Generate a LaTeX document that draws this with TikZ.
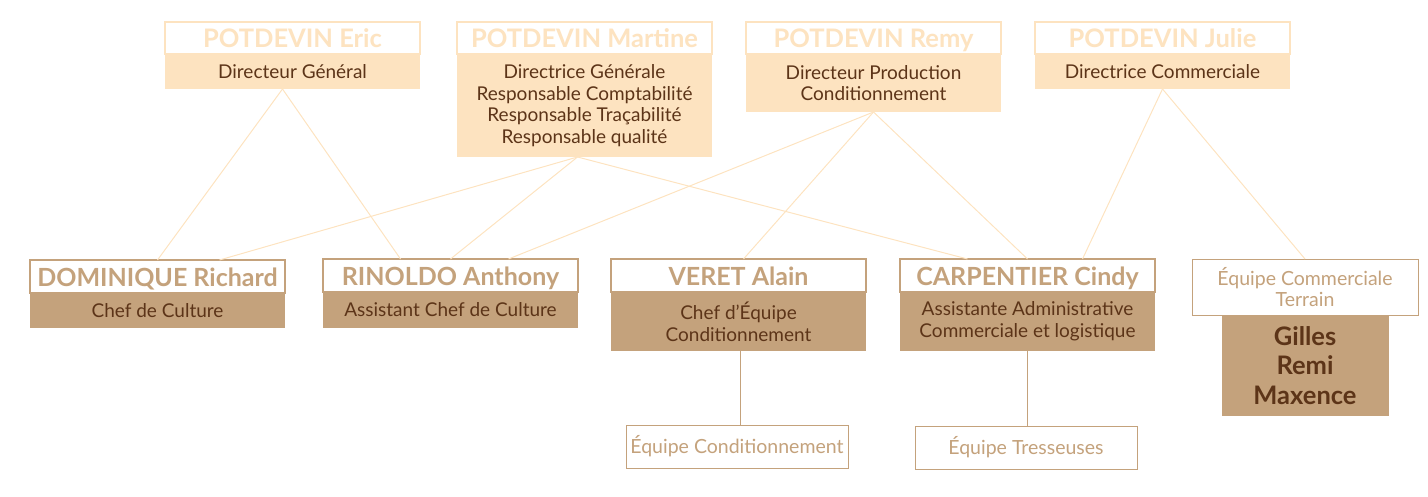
\documentclass[tikz,border=0pt]{standalone}
\usepackage{fontspec}
\setmainfont{Lato}
\usetikzlibrary{positioning}
\definecolor{peche}{RGB}{253,227,192}
\definecolor{tabac}{RGB}{196,162,124}
\definecolor{brun}{RGB}{92,52,24}

\begin{document}
\begin{tikzpicture}[x=1pt,y=1pt,
  boite/.style={inner sep=0pt,outer sep=0pt,align=center,minimum width=255pt},
  tete/.style={boite,draw=peche,line width=1.2pt,fill=white,text=peche,font=\fontsize{25.5}{27}\selectfont\bfseries,text height=20pt,text depth=0pt,minimum height=32pt,anchor=north west},
  corps/.style={boite,fill=peche,text=brun,font=\fontsize{19}{21.7}\selectfont,below=0pt of #1},
  nom/.style={boite,draw=tabac,line width=1.2pt,fill=white,text=tabac,font=\fontsize{25}{27}\selectfont\bfseries,text height=21pt,text depth=0pt,minimum height=33pt,anchor=north west},
  poste/.style={boite,fill=tabac,text=brun,font=\fontsize{19}{21.7}\selectfont,below=0pt of #1},
  equipe/.style={boite,draw=tabac,line width=0.8pt,fill=white,text=tabac,font=\fontsize{19.5}{21}\selectfont,minimum width=222pt,minimum height=43pt,anchor=north west},
  lien/.style={draw=peche,line width=1pt},
  trait/.style={draw=tabac,line width=1pt}]
\useasboundingbox (0,0) rectangle (1428,-497);

% direction
\node[tete] (ericH) at (165,-22) {POTDEVIN Eric};
\node[corps=ericH,minimum height=35pt] (eric) {Directeur Général};
\node[tete] (martineH) at (457,-22) {POTDEVIN Martine};
\node[corps=martineH,minimum height=103pt] (martine) {Directrice Générale\\Responsable Comptabilité\\Responsable Traçabilité\\Responsable qualité};
\node[tete] (remyH) at (746,-22) {POTDEVIN Remy};
\node[corps=remyH,minimum height=58pt] (remy) {Directeur Production\\Conditionnement};
\node[tete] (julieH) at (1035,-22) {POTDEVIN Julie};
\node[corps=julieH,minimum height=35pt] (julie) {Directrice Commerciale};

% chefs
\node[nom] (domH) at (30,-260) {DOMINIQUE Richard};
\node[poste=domH,minimum height=35pt] (dom) {Chef de Culture};
\node[nom] (rinH) at (323,-259) {RINOLDO Anthony};
\node[poste=rinH,minimum height=36pt] (rin) {Assistant Chef de Culture};
\node[nom] (verH) at (611,-259) {VERET Alain};
\node[poste=verH,minimum height=59pt] (veret) {Chef d’Équipe\\Conditionnement};
\node[nom] (carH) at (900,-259) {CARPENTIER Cindy};
\node[poste=carH,minimum height=59pt] (carp) {Assistante Administrative\\Commerciale et logistique};
\node[equipe,minimum width=226pt,minimum height=56pt] (eqcom) at (1192,-259) {Équipe Commerciale\\Terrain};
\node[boite,fill=tabac,text=brun,minimum width=167pt,minimum height=101pt,below=0pt of eqcom,font=\fontsize{25.5}{29.5}\selectfont\bfseries] (gilles) {Gilles\\Remi\\Maxence};

% equipes
\node[equipe] (eqcond) at (626,-425) {Équipe Conditionnement};
\node[equipe] (eqtress) at (915,-426) {Équipe Tresseuses};

\draw[lien] ([xshift=-10pt]eric.south) -- (domH.north);
\draw[lien] ([xshift=-10pt]eric.south) -- ([xshift=-50pt]rinH.north);
\draw[lien] ([xshift=-7pt]martine.south) -- ([xshift=62pt]domH.north);
\draw[lien] ([xshift=-7pt]martine.south) -- (rinH.north);
\draw[lien] ([xshift=-7pt]martine.south) -- ([xshift=-60pt]carH.north);
\draw[lien] (remy.south) -- ([xshift=58pt]rinH.north);
\draw[lien] (remy.south) -- ([xshift=5pt]verH.north);
\draw[lien] (remy.south) -- (carH.north);
\draw[lien] (julie.south) -- ([xshift=55pt]carH.north);
\draw[lien] (julie.south) -- (eqcom.north);
\draw[trait] ([xshift=2pt]veret.south) -- ([xshift=2pt]veret.south |- eqcond.north);
\draw[trait] (carp.south) -- (carp.south |- eqtress.north);

\end{tikzpicture}
\end{document}
